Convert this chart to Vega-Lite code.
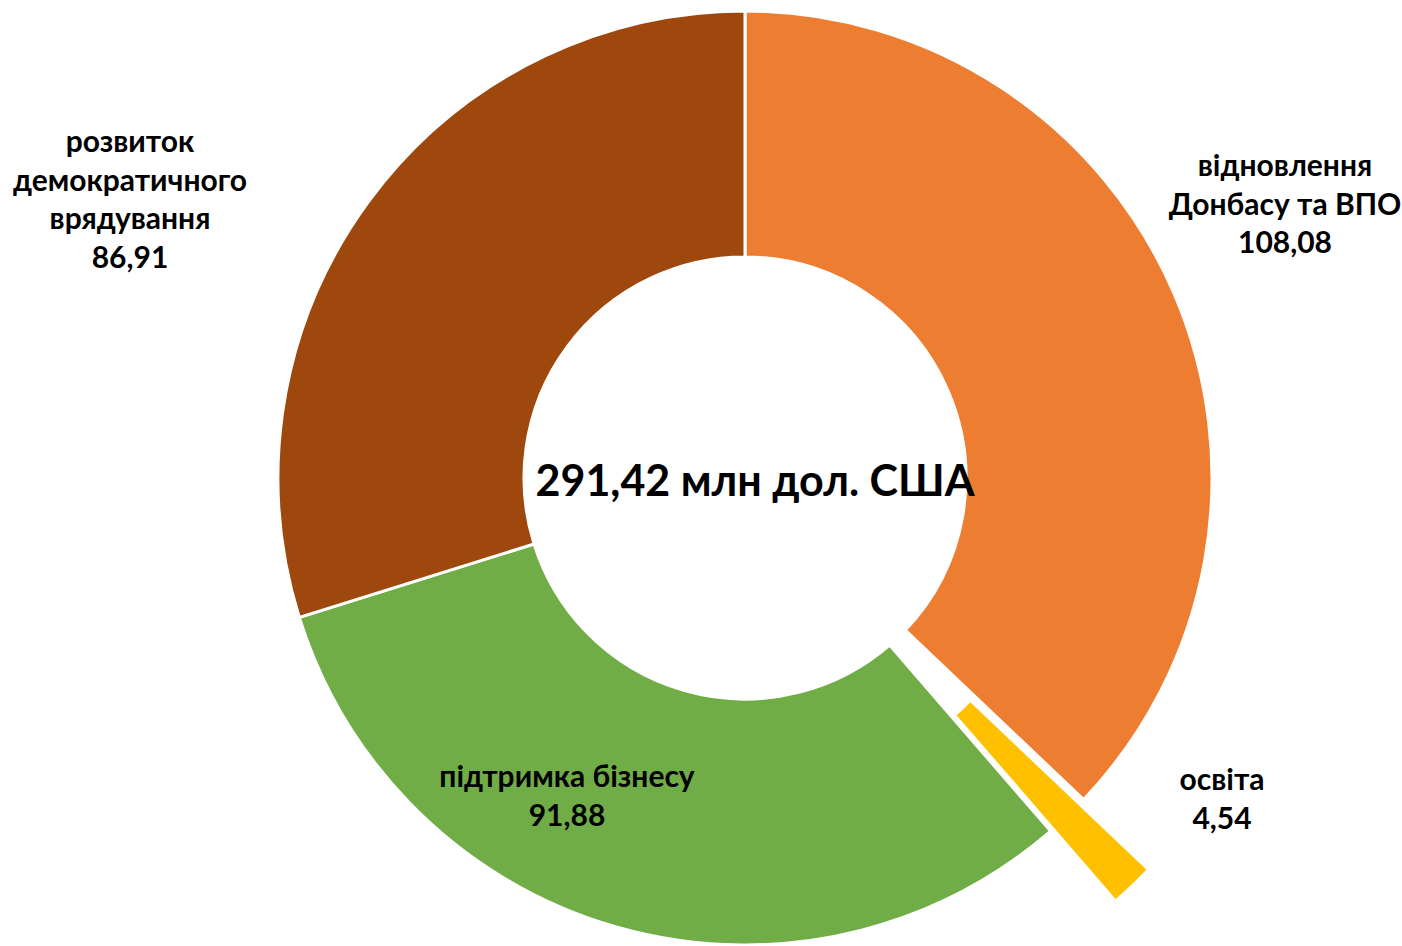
{
  "$schema": "https://vega.github.io/schema/vega-lite/v6.json",
  "width": 1314,
  "height": 936,
  "padding": {"left": 88, "top": 10, "right": 0, "bottom": 0},
  "autosize": {"type": "none"},
  "background": "white",
  "config": {"view": {"stroke": null}},
  "data": {
    "values": [
      {"category": "відновлення Донбасу та ВПО", "label": "відновлення\nДонбасу та ВПО", "value": 108.08, "idx": 1},
      {"category": "освіта", "label": "освіта", "value": 4.54, "idx": 2},
      {"category": "підтримка бізнесу", "label": "підтримка бізнесу", "value": 91.88, "idx": 3},
      {"category": "розвиток демократичного врядування", "label": "розвиток\nдемократичного\nврядування", "value": 86.91, "idx": 4}
    ]
  },
  "layer": [
    {
      "mark": {"type": "arc", "outerRadius": 467, "innerRadius": 221, "stroke": "white", "strokeWidth": 3},
      "encoding": {
        "theta": {"field": "value", "type": "quantitative", "stack": true},
        "order": {"field": "idx", "type": "quantitative"},
        "color": {
          "field": "category", "type": "nominal", "legend": null,
          "scale": {
            "domain": ["відновлення Донбасу та ВПО", "освіта", "підтримка бізнесу", "розвиток демократичного врядування"],
            "range": ["#ED7D31", "#FFC000", "#70AD47", "#9E480E"]
          }
        },
        "opacity": {"condition": {"test": "datum.category === 'освіта'", "value": 0}, "value": 1}
      }
    },
    {
      "mark": {"type": "arc", "outerRadius": 467, "innerRadius": 221, "stroke": "white", "strokeWidth": 3, "xOffset": 65, "yOffset": 70},
      "encoding": {
        "theta": {"field": "value", "type": "quantitative", "stack": true},
        "order": {"field": "idx", "type": "quantitative"},
        "color": {"field": "category", "type": "nominal", "legend": null},
        "opacity": {"condition": {"test": "datum.category === 'освіта'", "value": 1}, "value": 0}
      }
    },
    {
      "transform": [
        {"calculate": "datum.label + '\\n' + replace(format(datum.value, '.2f'), '.', ',')", "as": "txt"}
      ],
      "mark": {"type": "text", "font": "Lato", "fontWeight": "bold", "fontSize": 30, "lineBreak": "\n", "lineHeight": 38.5, "align": "center", "baseline": "middle", "color": "black"},
      "encoding": {
        "x": {"field": "value", "type": "quantitative", "axis": null,
              "scale": {"domain": [4.54, 86.91, 91.88, 108.08], "range": [1134, 42, 479, 1197], "nice": false, "zero": false}},
        "y": {"field": "value", "type": "quantitative", "axis": null,
              "scale": {"domain": [4.54, 86.91, 91.88, 108.08], "range": [771, 133, 768, 157], "nice": false, "zero": false}},
        "text": {"field": "txt", "type": "nominal"}
      }
    },
    {
      "data": {"values": [{"total": "291,42 млн дол. США"}]},
      "mark": {"type": "text", "font": "Lato", "fontWeight": "bold", "fontSize": 43, "align": "center", "baseline": "middle", "color": "black", "dx": 10, "dy": 5},
      "encoding": {"text": {"field": "total", "type": "nominal"}}
    }
  ]
}
